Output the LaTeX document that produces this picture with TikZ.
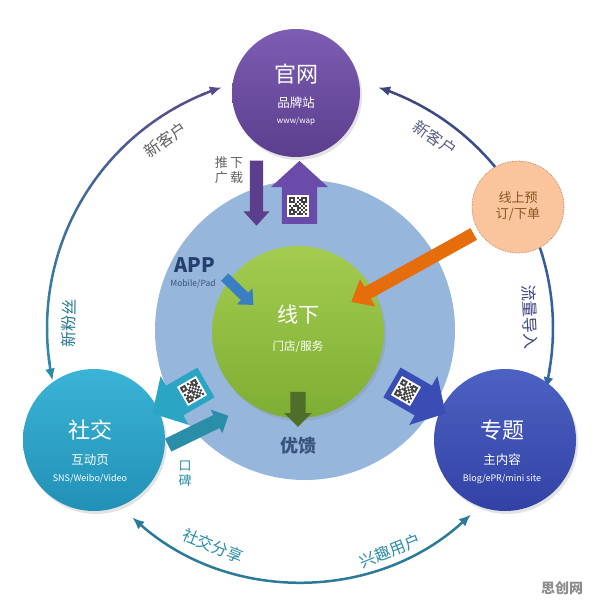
\documentclass[tikz,border=0pt]{standalone}
\usepackage{fontspec}
\setmainfont{Noto Sans CJK SC}
\usetikzlibrary{shapes.arrows,calc,shadows,arrows.meta}
\definecolor{bigblue}{HTML}{97B6DC}
\definecolor{purpT}{HTML}{7C5DB2}
\definecolor{purpB}{HTML}{5C3E8E}
\definecolor{greenT}{HTML}{A3CC50}
\definecolor{greenB}{HTML}{7DAE33}
\definecolor{tealT}{HTML}{3AB4D6}
\definecolor{tealB}{HTML}{2290B6}
\definecolor{blueT}{HTML}{4C62C2}
\definecolor{blueB}{HTML}{3242A4}
\definecolor{orangeF}{HTML}{FAC49C}
\definecolor{orangeD}{HTML}{B8906E}
\definecolor{orangeT}{HTML}{8A5524}
\definecolor{arcPurple}{HTML}{5A4A8C}
\definecolor{arcTeal}{HTML}{2A8CA8}
\definecolor{arcNavy}{HTML}{3C4580}
\definecolor{arcBlue}{HTML}{3366A8}
\definecolor{arcBot}{HTML}{2B7B98}
\definecolor{navyText}{HTML}{23406E}
\definecolor{arrPurpD}{HTML}{5B3F8C}
\definecolor{arrPurpL}{HTML}{6B4BAA}
\definecolor{arrBlue}{HTML}{3B7DC2}
\definecolor{arrOrange}{HTML}{E56D0B}
\definecolor{arrGreen}{HTML}{4F6E2A}
\definecolor{arrTeal}{HTML}{2A8EA8}
\definecolor{arrTealQ}{HTML}{2AA6C4}
\definecolor{arrBlueQ}{HTML}{3A4DB4}
\tikzset{
  x=1pt, y=1pt,
  disc/.style={circle, inner sep=0pt, minimum size=#1},
  blockarr/.style n args={4}{shape=single arrow, fill=#1, draw=none, inner xsep=0pt,
     inner ysep=#2, single arrow head extend=#3, single arrow tip angle=#4,
     single arrow head indent=0pt},
  arclbl/.style={font=\fontsize{16}{16}\selectfont, inner sep=0pt},
  big/.style={font=\fontsize{22}{22}\selectfont, text=white, inner sep=0pt},
  mid/.style={font=\fontsize{12.5}{13}\selectfont, text=white, inner sep=0pt},
  small/.style={font=\fontsize{9}{9}\selectfont, text=white, inner sep=0pt},
  shad/.style={drop shadow={opacity=0.22, shadow xshift=2pt, shadow yshift=-3pt}},
  qr/.pic={
    \fill[white] (-11,-11) rectangle (11,11);
    \foreach \yy/\rr in {0/{0,1,2,4,6,7,8},1/{0,2,5,6,8},2/{0,1,2,4,6,7,8},3/{3,5,7},
        4/{0,2,3,4,6,8},5/{1,4,5,7},6/{0,1,2,4,6,8},7/{0,2,3,5,7},8/{0,1,2,4,5,6,8}}{
      \foreach \xx in \rr {\fill[black!75] (\xx*2-9, 9-\yy*2) rectangle ++(2,-2);}
    }
  }
}
\begin{document}
\begin{tikzpicture}
\useasboundingbox (0,0) rectangle (596,-608);
\fill[white] (0,0) rectangle (596,-608);
\coordinate (C) at (300,-328);

% ---- outer arcs ----
\foreach \i in {0,...,19}{
  \pgfmathsetmacro{\aa}{112+\i*3.8}
  \pgfmathsetmacro{\bb}{\aa+4.0}
  \pgfmathtruncatemacro{\pp}{100-\i*5}
  \draw[line width=2.5pt, color=arcPurple!\pp!arcTeal] ($(C)+(\aa:253)$) arc[start angle=\aa, end angle=\bb, radius=253];
}
\draw[line width=2.5pt, arcPurple, -{Latex[length=12pt,width=10pt]}] ($(C)+(113:253)$) coordinate (la) arc[start angle=113, end angle=108, radius=253] coordinate (ltip);
\draw[line width=2.5pt, arcTeal, -{Latex[length=12pt,width=10pt]}] ($(C)+(187:253)$) coordinate (lb) arc[start angle=187, end angle=192, radius=253] coordinate (lbtip);
\foreach \i in {0,...,19}{
  \pgfmathsetmacro{\aa}{67-\i*3.85}
  \pgfmathsetmacro{\bb}{\aa-4.0}
  \pgfmathtruncatemacro{\pp}{100-\i*5}
  \draw[line width=2.5pt, color=arcNavy!\pp!arcBlue] ($(C)+(\aa:253)$) arc[start angle=\aa, end angle=\bb, radius=253];
}
\draw[line width=2.5pt, arcNavy, -{Latex[length=12pt,width=10pt]}] ($(C)+(67:253)$) arc[start angle=67, end angle=72, radius=253] coordinate (rtip);
\draw[line width=2.5pt, arcBlue, -{Latex[length=12pt,width=10pt]}] ($(C)+(-9:253)$) arc[start angle=-9, end angle=-14, radius=253] coordinate (rbtip);
\draw[line width=2.5pt, arcBot, {Latex[length=12pt,width=10pt]}-{Latex[length=12pt,width=10pt]}] ($(C)+(228.5:253)$) coordinate (bl) arc[start angle=228.5, end angle=312.5, radius=253] coordinate (br);

% arc labels
\node[arclbl, text=black!62, rotate=35.6] (lbl1) at (165,-140) {新客户};
\node[arclbl, text=arcTeal!85!black, rotate=89] (lbl2) at (69,-323) {新粉丝};
\node[arclbl, text=arcNavy!80!black!80, rotate=-35] (lbl3) at (435,-138) {新客户};
\node[arclbl, text=arcNavy, rotate=-87] (lbl4) at (530,-317) {流量导入};
\node[arclbl, text=arcTeal, rotate=-22] (lbl5) at (213,-546) {社交分享};
\node[arclbl, text=arcTeal, rotate=22] (lbl6) at (390,-551) {兴趣用户};

% ---- central discs ----
\node[disc=300, fill=bigblue] (ring) at (305,-330) {};
\node[disc=172, top color=greenT, bottom color=greenB, shad] (xian) at (298,-332) {};
\node[big, font=\fontsize{21}{21}\selectfont] (xianT) at (298,-314) {线下};
\node[mid, font=\fontsize{11.5}{12}\selectfont] (xianS) at (298,-347) {门店/服务};

\node[disc=128, top color=purpT, bottom color=purpB, shad] (guan) at (296,-93) {};
\node[big] (guanT) at (296,-74) {官网};
\node[mid] (guanS) at (296,-103) {品牌站};
\node[small, font=\fontsize{8}{8}\selectfont] (guanW) at (296,-121) {www/wap};

\node[disc=142, top color=tealT, bottom color=tealB, shad] (she) at (94,-440) {};
\node[big] (sheT) at (90,-430) {社交};
\node[mid] (sheS) at (90,-460) {互动页};
\node[small] (sheW) at (90,-479) {SNS/Weibo/Video};

\node[disc=142, top color=blueT, bottom color=blueB, shad] (zhuan) at (505,-440) {};
\node[big] (zhuanT) at (502,-430) {专题};
\node[mid] (zhuanS) at (502,-460) {主内容};
\node[small] (zhuanW) at (502,-479) {Blog/ePR/mini site};

% ---- block arrows ----
\node[blockarr={arrPurpD}{6.5pt}{6.5pt}{85}, minimum height=65pt, rotate=-90] (down1) at (256.5,-189.5) {};
\node[font=\fontsize{13}{15}\selectfont, text=black!62, align=center, inner sep=0pt] (tuiT) at (229,-170) {推\,下\\广\,载};
\node[blockarr={arrPurpL}{17.5pt}{11pt}{95}, minimum height=63pt, rotate=90] (up1) at (299.5,-200.5) {};
\pic at (298,-206) {qr};
\node[font=\bfseries\fontsize{20}{20}\selectfont, text=navyText, inner sep=0pt] (appT) at (195,-265) {APP};
\node[font=\fontsize{8.5}{9}\selectfont, text=navyText!90, inner sep=0pt] (appS) at (193,-284) {Mobile/Pad};
\node[blockarr={arrBlue}{5pt}{6pt}{85}, minimum height=40pt, rotate=-44] (appA) at (237,-289) {};
\node[blockarr={arrOrange}{6.5pt}{9pt}{80}, minimum height=140pt, rotate=209] (orA) at (416,-266) {};
\node[blockarr={arrGreen}{7.5pt}{6pt}{90}, minimum height=35pt, rotate=-90] (grA) at (298,-405.5) {};
\node[font=\bfseries\fontsize{18}{18}\selectfont, text=navyText!90, inner sep=0pt] (youT) at (298,-446) {优馈};
\node[blockarr={arrTealQ}{17pt}{11pt}{95}, minimum height=62pt, rotate=210] (lqA) at (186,-394) {};
\pic[rotate=30] at (192,-391) {qr};
\node[blockarr={arrBlueQ}{17pt}{11pt}{95}, minimum height=62pt, rotate=-30] (rqA) at (412,-394) {};
\pic[rotate=-30] at (406,-391) {qr};
\node[blockarr={arrTeal}{7pt}{6pt}{90}, minimum height=67pt, rotate=26] (kouA) at (195,-432) {};
\node[font=\fontsize{13}{15}\selectfont, text=arrTeal, align=center, inner sep=0pt] (kouT) at (185,-474) {口\\碑};

% orange disc
\node[disc=92, fill=orangeF, draw=orangeD, densely dotted, line width=0.8pt] (dan) at (518,-207) {};
\node[font=\fontsize{13}{16}\selectfont, text=orangeT, align=center, inner sep=0pt] (danT) at (518,-206) {线上预\\订/下单};

\node[font=\bfseries\fontsize{14}{14}\selectfont, text=black!45, inner sep=0pt] (wm) at (562,-588) {思创网};
\end{tikzpicture}
\end{document}
